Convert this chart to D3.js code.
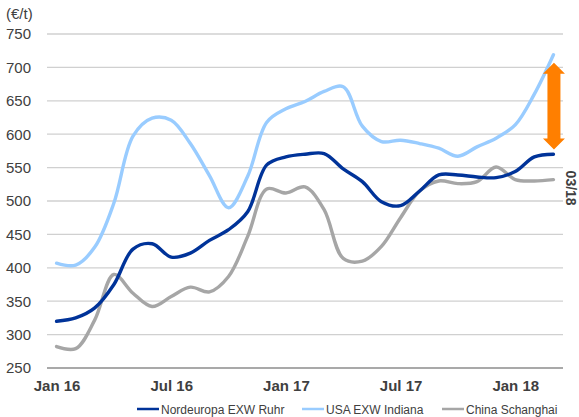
<!DOCTYPE html>
<html>
<head>
<meta charset="utf-8">
<script src="https://cdn.jsdelivr.net/npm/d3@7"></script>
<style>
  html, body { margin: 0; padding: 0; background: #fff; }
  svg { display: block; font-family: "Liberation Sans", Arial, sans-serif; }
</style>
</head>
<body>
<svg id="chart" width="579" height="417"></svg>
<script>
// ---- Data (monthly, Jan 16 .. Mar 18) ----
const months = ["Jan 16","Feb 16","Mar 16","Apr 16","May 16","Jun 16","Jul 16","Aug 16","Sep 16","Oct 16","Nov 16","Dec 16",
                "Jan 17","Feb 17","Mar 17","Apr 17","May 17","Jun 17","Jul 17","Aug 17","Sep 17","Oct 17","Nov 17","Dec 17",
                "Jan 18","Feb 18","Mar 18"];
const nordeuropa = [320,325,340,375,428,436,416,422,441,457,484,554,566,570,571,548,529,499,493,515,539,539,536,535,544,566,570];
const usa        = [407,404,431,497,597,624,621,586,538,490,537,618,638,649,664,671,612,589,591,586,579,567,581,594,614,660,719];
const china      = [282,279,322,390,362,342,357,371,364,387,447,518,512,521,487,414,410,432,475,515,530,526,529,551,532,530,532];
const seriesNames = ["Nordeuropa EXW Ruhr","USA EXW Indiana","China Schanghai"];
const seriesColors = ["#003399","#99ccff","#a6a6a6"];
const xTickLabels = ["Jan 16","Jul 16","Jan 17","Jul 17","Jan 18"];
const yTicks = [250,300,350,400,450,500,550,600,650,700,750];
const unitLabel = "(€/t)";
const arrowRange = [707, 577];   // orange double arrow (€/t)
const arrowLabel = "03/18";

// ---- Layout ----
const svg = d3.select("#chart");
const x = d3.scaleLinear().domain([-0.5, months.length - 0.5]).range([47, 563]);
const y = d3.scaleLinear().domain([250, 750]).range([368, 34]);
const textColor = "#404040";

// gridlines
svg.append("g").selectAll("line").data(yTicks.filter(d => d > 250)).join("line")
  .attr("x1", x.range()[0]).attr("x2", x.range()[1])
  .attr("y1", d => y(d)).attr("y2", d => y(d))
  .attr("stroke", "#d0d0d0").attr("stroke-width", 1.3);

// y axis labels
const yAxis = d3.axisLeft(y).tickValues(yTicks).tickSize(0).tickPadding(0).tickFormat(d3.format("d"));
const gy = svg.append("g").attr("transform", "translate(31,0)").call(yAxis);
gy.select(".domain").remove();
gy.selectAll("text").attr("font-size", 15).attr("fill", textColor)
  .attr("font-family", "Liberation Sans, Arial, sans-serif");

// baseline axis
svg.append("line")
  .attr("x1", x.range()[0]).attr("x2", x.range()[1])
  .attr("y1", y(250)).attr("y2", y(250))
  .attr("stroke", "#8c8c8c").attr("stroke-width", 1.5);

// x axis labels
const xAxis = d3.axisBottom(x)
  .tickValues(xTickLabels.map(l => months.indexOf(l)))
  .tickFormat(i => months[i]).tickSize(0).tickPadding(0);
const gx = svg.append("g").attr("transform", `translate(0,${y(250) + 12})`).call(xAxis);
gx.select(".domain").remove();
gx.selectAll("text").attr("font-size", 15).attr("font-weight", "bold").attr("fill", textColor)
  .attr("font-family", "Liberation Sans, Arial, sans-serif");

// unit label
svg.append("text").attr("x", 6).attr("y", 19).attr("font-size", 15).attr("fill", textColor).text(unitLabel);

// lines
const line = d3.line().x((d, i) => x(i)).y(d => y(d)).curve(d3.curveCatmullRom.alpha(0.5));
const allSeries = [nordeuropa, usa, china];
// draw order: USA, China, Nordeuropa on top
[1, 2, 0].forEach(k => {
  svg.append("path").datum(allSeries[k])
    .attr("d", line).attr("fill", "none")
    .attr("stroke", seriesColors[k]).attr("stroke-width", 3.4)
    .attr("stroke-linejoin", "round").attr("stroke-linecap", "round");
});

// orange double arrow
const ax = x(months.length - 1) + 0.5;
const yTop = y(arrowRange[0]), yBot = y(arrowRange[1]);
const headH = 11, headW = 11, shaftW = 6.5;
const arrowPts = [
  [ax, yTop], [ax + headW, yTop + headH], [ax + shaftW, yTop + headH],
  [ax + shaftW, yBot - headH], [ax + headW, yBot - headH], [ax, yBot],
  [ax - headW, yBot - headH], [ax - shaftW, yBot - headH],
  [ax - shaftW, yTop + headH], [ax - headW, yTop + headH]
];
svg.append("path").attr("d", d3.line()(arrowPts) + "Z").attr("fill", "#ff7f00");

// rotated label
svg.append("text")
  .attr("transform", `translate(566,${y(550) + 3}) rotate(90)`)
  .attr("font-size", 14).attr("font-weight", "bold").attr("fill", textColor)
  .text(arrowLabel);

// legend
const legendX = [137, 302, 442];
const legend = svg.append("g");
seriesNames.forEach((name, k) => {
  legend.append("line")
    .attr("x1", legendX[k]).attr("x2", legendX[k] + 22)
    .attr("y1", 409).attr("y2", 409)
    .attr("stroke", seriesColors[k]).attr("stroke-width", 2.5);
  legend.append("text")
    .attr("x", legendX[k] + 24).attr("y", 414)
    .attr("font-size", 12).attr("fill", textColor).text(name);
});
</script>
</body>
</html>
